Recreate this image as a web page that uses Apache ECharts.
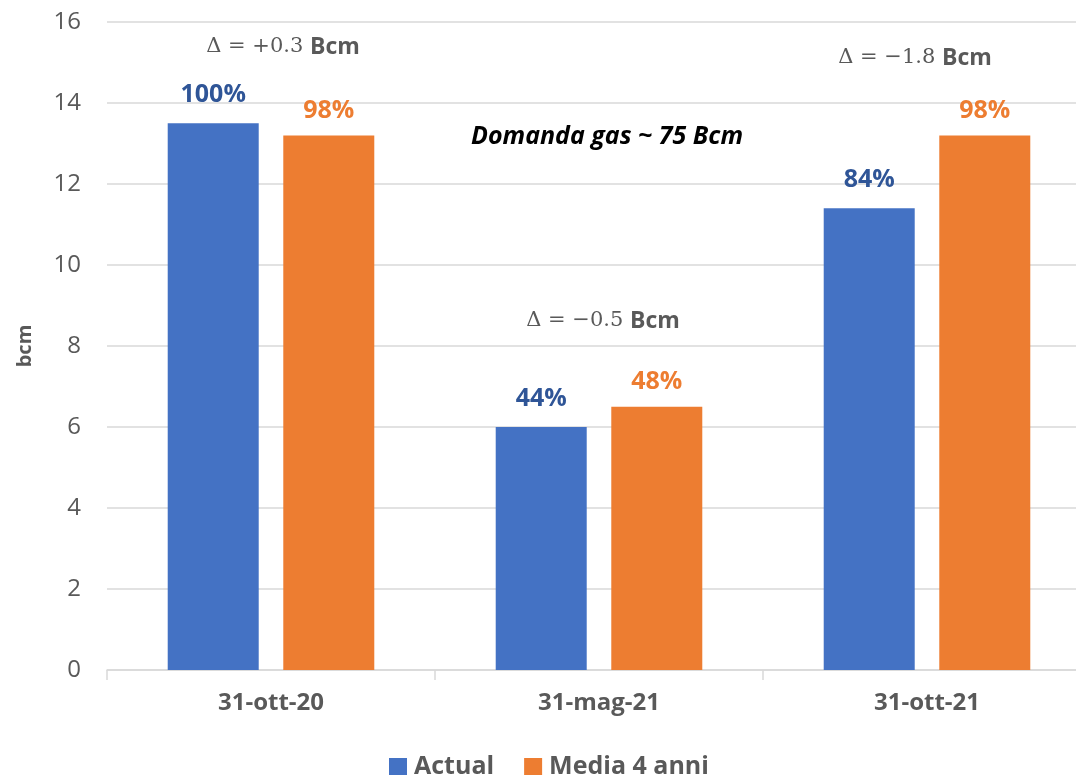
<!DOCTYPE html>
<html>
<head>
<meta charset="utf-8">
<script src="https://cdn.jsdelivr.net/npm/echarts@6/dist/echarts.min.js"></script>
<style>
  html, body { margin: 0; padding: 0; background: #fff; overflow: hidden; }
  /* the plot runs slightly past the right edge of the page */
  #chart { width: 1092px; height: 778px; }
</style>
</head>
<body>
<div id="chart"></div>
<script>
// Gas storage levels (bcm) at three dates, actual vs 4-year average
const categories = ['31-ott-20', '31-mag-21', '31-ott-21'];
const actualValues = [13.5, 6.0, 11.4];
const averageValues = [13.2, 6.5, 13.2];
const actualPct = ['100%', '44%', '84%'];
const averagePct = ['98%', '48%', '98%'];
const seriesNames = ['Actual', 'Media 4 anni'];
const deltaNotes = ['+0.3', '\u22120.5', '\u22121.8'];

const FONT = '"Open Sans", Lato, sans-serif';
const GREY = '#595959';
const LINE = '#d9d9d9';

const chart = echarts.init(document.getElementById('chart'), null, { renderer: 'canvas' });

function deltaText(v) {
  return {
    type: 'text',
    style: {
      text: '{m|\u0394 = ' + v + '}  {b|Bcm}',
      rich: {
        m: { fontFamily: '"DejaVu Serif", "Liberation Serif", serif', fontSize: 21, fill: GREY, fontWeight: 'normal' },
        b: { fontFamily: FONT, fontSize: 23, fontWeight: 'bold', fill: GREY }
      },
      align: 'center',
      verticalAlign: 'middle'
    }
  };
}

const notes = [
  Object.assign(deltaText(deltaNotes[0]), { x: 283, y: 47 }),
  Object.assign(deltaText(deltaNotes[1]), { x: 603, y: 321 }),
  Object.assign(deltaText(deltaNotes[2]), { x: 915, y: 58 }),
  {
    type: 'text', x: 607, y: 137,
    style: {
      text: 'Domanda gas ~ 75 Bcm',
      fontFamily: FONT, fontSize: 25, fontWeight: 'bold', fontStyle: 'italic',
      fill: '#000', align: 'center', verticalAlign: 'middle'
    }
  }
];

chart.setOption({
  animation: false,
  textStyle: { fontFamily: FONT },
  grid: { left: 107, top: 22, right: 1, height: 648, containLabel: false },
  legend: {
    data: seriesNames,
    top: 749,
    left: 384,
    itemWidth: 18,
    itemHeight: 17,
    itemGap: 30,
    icon: 'rect',
    textStyle: { fontFamily: FONT, fontSize: 25, fontWeight: 'bold', color: GREY, padding: [0, 0, 0, 2] }
  },
  xAxis: {
    type: 'category',
    data: categories,
    axisLine: { lineStyle: { color: LINE, width: 1.5 } },
    axisTick: { show: true, length: 10, lineStyle: { color: LINE, width: 1.5 } },
    axisLabel: { fontFamily: FONT, fontSize: 24, fontWeight: 'bold', color: GREY, margin: 21 }
  },
  yAxis: {
    type: 'value',
    min: 0, max: 16, interval: 2,
    name: 'bcm',
    nameLocation: 'middle',
    nameRotate: 90,
    nameGap: 72,
    nameTextStyle: { fontFamily: FONT, fontSize: 20, fontWeight: 'bold', color: GREY },
    axisLine: { show: false },
    axisTick: { show: false },
    axisLabel: { fontFamily: FONT, fontSize: 24, color: GREY, margin: 26 },
    splitLine: { lineStyle: { color: LINE, width: 1.5 } }
  },
  series: [
    {
      name: seriesNames[0],
      type: 'bar',
      data: actualValues,
      barWidth: 91,
      barGap: '27%',
      itemStyle: { color: '#4472C4' },
      label: {
        show: true, position: 'top', distance: 16,
        formatter: p => actualPct[p.dataIndex],
        fontFamily: FONT, fontSize: 25, fontWeight: 'bold', color: '#2F5597'
      }
    },
    {
      name: seriesNames[1],
      type: 'bar',
      data: averageValues,
      barWidth: 91,
      barGap: '27%',
      itemStyle: { color: '#ED7D31' },
      label: {
        show: true, position: 'top', distance: 12,
        formatter: p => averagePct[p.dataIndex],
        fontFamily: FONT, fontSize: 25, fontWeight: 'bold', color: '#ED7D31'
      }
    }
  ],
  graphic: notes
});
</script>
</body>
</html>
